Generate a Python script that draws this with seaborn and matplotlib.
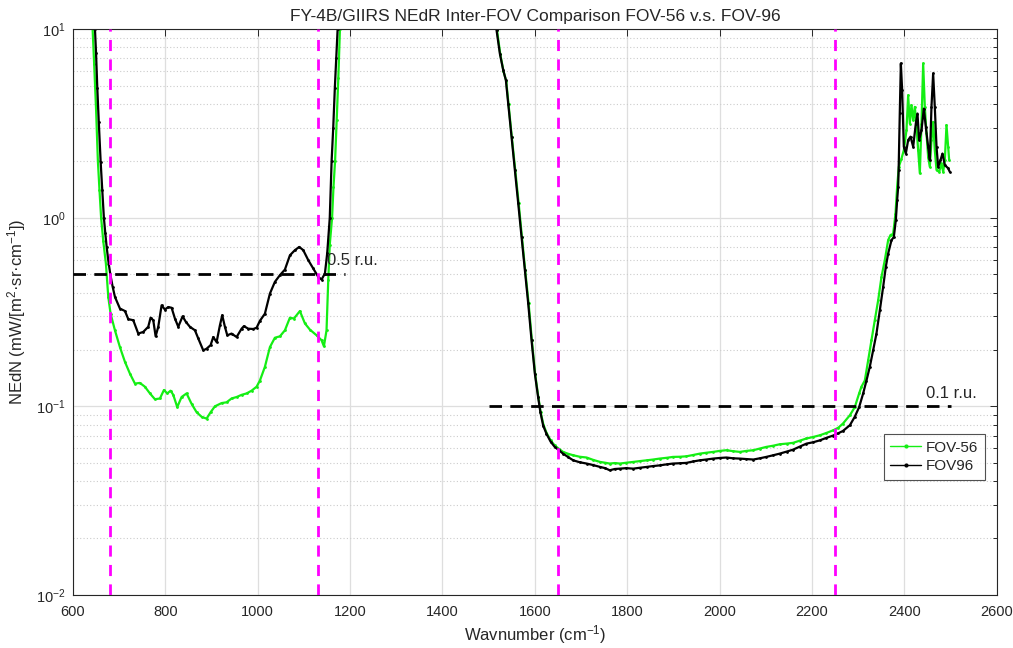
import numpy as np
import pandas as pd
import matplotlib
matplotlib.use("Agg")
import matplotlib.pyplot as plt
from matplotlib.lines import Line2D
from matplotlib.ticker import LogLocator, NullLocator, FixedLocator
import seaborn as sns

# ---- long-wave band (cm^-1, NEdN) ----
lw_wn_fov56 = [638, 642.6, 646, 650, 654, 657.5, 661, 665.7, 671.4, 676.5, 681.5, 690.9,
               701.7, 712.6, 723.4, 734.2, 745, 755.8, 766.7, 777.5, 788.3, 797, 804.2,
               811.4, 817.2, 825.8, 835.2, 846, 856.9, 867.7, 878.5, 889.3, 898, 907.4,
               921.8, 932.6, 943.4, 954.3, 965.1, 975.9, 986.7, 997.6, 1004.8, 1015.6,
               1026.4, 1037.2, 1048.1, 1058.9, 1069.7, 1078.4, 1091.3, 1102.2, 1113,
               1127.4, 1138.2, 1143.3, 1149, 1152.7, 1156, 1161, 1164, 1167.5, 1171,
               1174.5, 1178, 1181]
lw_fov56 = [15, 10, 6.5, 3.8, 2.0, 1.4, 1.0, 0.75, 0.57, 0.38, 0.31, 0.253,
            0.206, 0.172, 0.149, 0.132, 0.133, 0.127, 0.117, 0.109, 0.110, 0.122, 0.117,
            0.121, 0.115, 0.099, 0.112, 0.117, 0.103, 0.093, 0.088, 0.086, 0.093, 0.100,
            0.104, 0.105, 0.110, 0.112, 0.115, 0.117, 0.121, 0.127, 0.137, 0.162,
            0.206, 0.231, 0.235, 0.253, 0.295, 0.292, 0.32, 0.275, 0.255,
            0.238, 0.224, 0.208, 0.253, 0.466, 0.72, 1.0, 1.45, 2.0, 3.3,
            5.5, 10, 14]

lw_wn_fov96 = [643, 647.7, 650, 652.7, 656, 660, 663.5, 667, 670, 673, 677, 681, 686, 691,
               701.7, 712.6, 719.8, 730.6, 741.4, 752.2, 763, 768.1, 773.9, 779, 784.7,
               791.9, 799.1, 806.4, 813.6, 820.8, 828, 837.4, 844.6, 853.2, 864.1, 871.3,
               882.1, 889.3, 898, 903.8, 911, 918.2, 923.2, 929, 934.1, 943.4, 954.3,
               965.1, 970.1, 979.5, 990.3, 997.6, 1004.8, 1015.6, 1026.4, 1037.2, 1048.1,
               1058.9, 1069.7, 1080.5, 1089.9, 1098.6, 1109.4, 1120.2, 1131, 1138.2,
               1145.5, 1150.5, 1156, 1160, 1163.5, 1167, 1170, 1173, 1176]
lw_fov96 = [14, 10, 7.5, 4.9, 3.2, 1.98, 1.4, 1.0, 0.83, 0.70, 0.58, 0.50, 0.43, 0.38,
            0.33, 0.32, 0.29, 0.286, 0.243, 0.248, 0.264, 0.295, 0.286, 0.235, 0.264,
            0.343, 0.326, 0.336, 0.333, 0.292, 0.264, 0.300, 0.280, 0.264, 0.253, 0.229,
            0.198, 0.202, 0.211, 0.233, 0.219, 0.269, 0.304, 0.264, 0.238, 0.243, 0.233,
            0.258, 0.266, 0.258, 0.257, 0.261, 0.284, 0.310, 0.396, 0.457, 0.496,
            0.531, 0.632, 0.673, 0.70, 0.673, 0.596, 0.538, 0.486, 0.47,
            0.506, 0.65, 1.0, 2.0, 3.0, 4.9, 7.0, 10, 14]

# ---- short-wave band ----
sw_wn_fov56 = [1513, 1518, 1525, 1532, 1538, 1543, 1550, 1557.5, 1565, 1572, 1579, 1586.5,
               1593.5, 1600.5, 1607.5, 1612.5, 1618.5, 1625, 1634, 1643, 1652, 1661, 1672,
               1683, 1697, 1712, 1726, 1741, 1752, 1762, 1773, 1784, 1798, 1813, 1827,
               1842, 1856, 1870, 1885, 1899, 1914, 1928, 1943, 1957, 1971, 1986, 2000,
               2015, 2029, 2044, 2058, 2073, 2087, 2101, 2116, 2130, 2145, 2159, 2174,
               2188, 2203, 2217, 2231, 2246, 2257, 2267, 2282, 2292.6, 2302, 2307, 2314.3,
               2321.5, 2328.7, 2335.9, 2343.2, 2350.4, 2357.6, 2364.8, 2369.9, 2375.6,
               2380.7, 2384.3, 2387.9, 2393.7, 2398.7, 2404.5, 2408.1, 2411.7, 2415.3,
               2419, 2422.6, 2426.2, 2429.8, 2433.4, 2437, 2440.6, 2444.2, 2447.8, 2451.4,
               2455, 2458.6, 2462.2, 2465.8, 2469.5, 2475.2, 2480.3, 2483.9, 2487.5,
               2491.1, 2494.7, 2496.9]
sw_fov56 = [13.5, 9.9, 7.4, 6.0, 5.3, 4.0, 2.69, 1.79, 1.19, 0.79, 0.527, 0.351,
            0.224, 0.149, 0.112, 0.093, 0.080, 0.0725, 0.066, 0.062, 0.0595, 0.0573, 0.0560,
            0.0550, 0.0540, 0.0535, 0.0520, 0.0507, 0.0502, 0.0497, 0.0500, 0.0497, 0.0502,
            0.0507, 0.0512, 0.0517, 0.0522, 0.0528, 0.0533, 0.0539, 0.0540, 0.0543, 0.0552,
            0.0561, 0.0567, 0.0573, 0.0580, 0.0585, 0.0578, 0.0573, 0.0580, 0.0585, 0.0597,
            0.0609, 0.0618, 0.0629, 0.0634, 0.0640, 0.0658, 0.0675, 0.0688, 0.0702, 0.0722,
            0.0746, 0.077, 0.081, 0.0897, 0.099, 0.117, 0.127, 0.137,
            0.175, 0.224, 0.286, 0.365, 0.486, 0.596, 0.76, 0.81, 0.82,
            1.05, 1.46, 1.86, 2.06, 2.28, 2.91, 4.46, 3.16, 3.95,
            3.29, 3.87, 3.03, 2.28, 1.72, 3.16, 6.58, 3.87, 2.80, 2.10,
            1.86, 2.58, 3.22, 2.28, 1.79, 1.75, 1.94, 1.75, 2.02,
            3.10, 2.38, 2.02]

sw_wn_fov96 = [1513, 1517, 1524.3, 1531.5, 1537.3, 1542.3, 1549.5, 1556.7, 1564, 1571.2,
               1578.4, 1585.6, 1592.8, 1600, 1607, 1612, 1618, 1625, 1634, 1643, 1652, 1661,
               1672, 1683, 1697, 1712, 1726, 1741, 1752, 1762, 1773, 1784, 1798, 1813, 1827,
               1842, 1856, 1870, 1885, 1899, 1914, 1928, 1943, 1957, 1971, 1986, 2000, 2015,
               2029, 2044, 2058, 2073, 2087, 2101, 2116, 2130, 2145, 2159, 2174, 2188, 2203,
               2217, 2231, 2246, 2257, 2267, 2282, 2292.6, 2302, 2310.7, 2317.9, 2325.1,
               2332.3, 2339.5, 2346.8, 2354, 2359.7, 2364.8, 2372, 2377.1, 2381.4, 2384.3,
               2386.5, 2387.5, 2390, 2392.3, 2395.1, 2398.7, 2403.1, 2408.1, 2413.2, 2419,
               2424.7, 2428.3, 2431.9, 2437, 2442, 2446.4, 2451.4, 2455, 2458.6, 2462.2,
               2465.8, 2469.5, 2473.1, 2478.1, 2482.4, 2487.5, 2494.7, 2498.3]
sw_fov96 = [13, 9.9, 7.4, 6.06, 5.36, 4.03, 2.69, 1.79, 1.19, 0.79,
            0.527, 0.351, 0.224, 0.149, 0.112, 0.093, 0.079, 0.0716, 0.065, 0.0609, 0.0585,
            0.0561, 0.0538, 0.0517, 0.0505, 0.0497, 0.0488, 0.0477, 0.0470, 0.0458, 0.0465,
            0.0467, 0.0470, 0.0467, 0.0472, 0.0477, 0.0482, 0.0486, 0.0492, 0.0497, 0.0499,
            0.0501, 0.0510, 0.0517, 0.0522, 0.0528, 0.0532, 0.0535, 0.0530, 0.0528, 0.0525,
            0.0522, 0.0530, 0.0539, 0.0550, 0.0561, 0.0575, 0.0589, 0.0612, 0.0634, 0.0645,
            0.0660, 0.0680, 0.0700, 0.0720, 0.074, 0.0794, 0.088, 0.099, 0.117, 0.137, 0.162,
            0.198, 0.243, 0.323, 0.43, 0.548, 0.645, 0.76, 0.79, 0.97, 1.24,
            1.46, 1.8, 3.6, 6.58, 4.75, 2.38, 2.19, 2.58, 2.69, 2.38,
            3.16, 3.57, 2.58, 2.91, 3.79, 3.03, 2.38, 2.02, 3.87, 5.82,
            3.87, 2.38, 1.86, 2.02, 2.19, 1.90, 1.83, 1.75]

# requirement thresholds and band limits
ru_levels = [0.5, 0.1]
ru_spans = [(600, 1190), (1500, 2500)]
ru_labels = ["0.5 r.u.", "0.1 r.u."]
ru_label_pos = [(1150, 0.59), (2446, 0.117)]
band_edges = [680, 1130, 1650, 2250]

fov_names = ["FOV-56", "FOV96"]
fov_colors = {"FOV-56": "#14ee14", "FOV96": "#000000"}

frames = []
for fov, band, wn, val in [("FOV-56", "LW", lw_wn_fov56, lw_fov56),
                           ("FOV96", "LW", lw_wn_fov96, lw_fov96),
                           ("FOV-56", "SW", sw_wn_fov56, sw_fov56),
                           ("FOV96", "SW", sw_wn_fov96, sw_fov96)]:
    frames.append(pd.DataFrame({"wavenumber": wn, "nedn": val, "fov": fov, "band": band}))
df = pd.concat(frames, ignore_index=True)

sns.set_style("white")
plt.rcParams["font.family"] = ["Liberation Sans", "DejaVu Sans"]
plt.rcParams["mathtext.fontset"] = "custom"
plt.rcParams["mathtext.rm"] = "Liberation Sans"
plt.rcParams["mathtext.it"] = "Liberation Sans:italic"
plt.rcParams["mathtext.default"] = "regular"

fig = plt.figure(figsize=(10.13, 6.48), dpi=100)
ax = fig.add_axes([0.072, 0.082, 0.912, 0.873])

sns.lineplot(data=df, x="wavenumber", y="nedn", hue="fov", hue_order=fov_names,
             units="band", estimator=None, sort=False, palette=fov_colors,
             marker=".", markersize=4, markeredgewidth=0, linewidth=1.6,
             legend=False, ax=ax)

ax.set_yscale("log")
ax.set_xlim(600, 2600)
ax.set_ylim(1e-2, 1e1)

# band limits
for x in band_edges:
    ax.axvline(x, color="#ff00ff", lw=2, ls=(0, (4, 3)), zorder=3)

# r.u. thresholds
for lvl, (x0, x1), lab, (tx, ty) in zip(ru_levels, ru_spans, ru_labels, ru_label_pos):
    ax.plot([x0, x1], [lvl, lvl], color="black", lw=2, ls=(0, (4.5, 3)), zorder=3)
    ax.text(tx, ty, lab, fontsize=12, color="#262626", va="center", ha="left")

# axes styling
ax.xaxis.set_major_locator(FixedLocator(np.arange(600, 2601, 200)))
ax.xaxis.set_minor_locator(NullLocator())
ax.yaxis.set_major_locator(LogLocator(base=10, numticks=10))
ax.yaxis.set_minor_locator(LogLocator(base=10, subs=np.arange(2, 10), numticks=10))
ax.grid(True, which="major", color="#dedede", lw=0.9, ls="-")
ax.grid(True, which="minor", axis="y", color="#cccccc", lw=0.8, ls=(0, (1, 2)))
ax.set_axisbelow(True)
ax.tick_params(which="both", direction="in", top=True, right=True, colors="#262626",
               labelsize=10.5, width=0.7)
ax.tick_params(which="major", length=5)
ax.tick_params(axis="x", which="major", pad=7)
ax.tick_params(axis="y", which="major", pad=5)
ax.tick_params(which="minor", length=3)
for s in ax.spines.values():
    s.set_color("#262626")
    s.set_linewidth(0.8)

ax.set_title("FY-4B/GIIRS NEdR Inter-FOV Comparison FOV-56 v.s. FOV-96",
             fontsize=12.5, color="#262626", pad=6)
ax.set_xlabel("Wavnumber (cm$^{-1}$)", fontsize=12, color="#262626", labelpad=3)
ax.set_ylabel("NEdN (mW/[m$^{2}$·sr·cm$^{-1}$])", fontsize=12, color="#262626", labelpad=6)

handles = [Line2D([], [], color=fov_colors[n], marker=".", markersize=6, lw=1,
                  markeredgewidth=0) for n in fov_names]
leg = ax.legend(handles, fov_names, loc="upper right", bbox_to_anchor=(0.987, 0.285),
                fontsize=11, frameon=True, fancybox=False, borderpad=0.45, numpoints=1,
                handlelength=2.0, handletextpad=0.3, labelspacing=0.3, borderaxespad=0)
leg.get_frame().set_edgecolor("#262626")
leg.get_frame().set_linewidth(0.8)

fig.savefig("out.png", dpi=100)
